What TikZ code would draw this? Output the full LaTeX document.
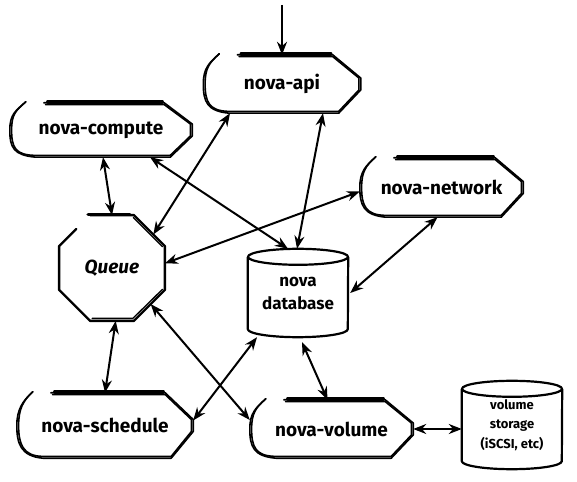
\documentclass[tikz,border=0pt]{standalone}
\usepackage{fontspec}
\setmainfont{Fira Sans}
\usetikzlibrary{arrows.meta,calc,shapes.geometric}

\tikzset{
  lbl/.style={inner sep=0pt, font=\bfseries\fontsize{19}{23}\selectfont, align=center},
  capbox/.style={lbl, draw=none},
  arr/.style={line width=2pt, {Stealth[length=13pt,width=10pt]}-{Stealth[length=13pt,width=10pt]}},
  one/.style={line width=2pt, -{Stealth[length=13pt,width=10pt]}},
  sk/.style={line width=1.6pt, line join=round, line cap=round},
  topbar/.style={line width=3.6pt, line cap=round},
  cylsk/.style={line width=2.2pt, line join=round},
}

\newcommand\skcap[1]{%
  \foreach \d in {0,1.8}{%
    \draw[sk] ($(#1.north west)+(34+\d,-\d)$) -- ($(#1.north east)+(-28,-\d)$)
      -- ($(#1.east)+(-\d,6)$) -- ($(#1.east)+(-\d,-6)$)
      -- ($(#1.south east)+(-22,\d)$) -- ($(#1.south west)+(26,\d)$)
      .. controls ($(#1.south west)+(4+\d,2)$) and ($(#1.west)+(\d,-18)$) .. ($(#1.west)+(\d,0)$)
      .. controls ($(#1.west)+(\d,16)$) and ($(#1.north west)+(6,-8)$) .. ($(#1.north west)+(16,1)$);
  }%
  \draw[topbar] ($(#1.north west)+(38,1)$) -- ($(#1.north east)+(-30,1)$);
}

\newcommand\skcyl[2]{%
  \draw[cylsk] ($(#1.north west)+(0,-8)$) -- ($(#1.south west)+(0,8)$)
    arc[start angle=180, end angle=360, x radius=#2, y radius=8]
    -- ($(#1.north east)+(0,-8)$);
  \draw[cylsk] ($(#1.north)+(0,-8)$) ellipse[x radius=#2, y radius=8];
}

\begin{document}
\begin{tikzpicture}[x=1pt,y=1pt]
  \fill[white] (0,0) rectangle (577,481);
  \useasboundingbox (0,0) rectangle (577,481);

  % nodes
  \node[capbox, minimum width=157pt, minimum height=58pt] (api) at (282,397) {nova-api};
  \node[capbox, minimum width=182pt, minimum height=54pt] (compute) at (101,351) {nova-compute};
  \node[capbox, minimum width=163pt, minimum height=59pt] (network) at (441.5,293.5) {nova-network};
  \node[capbox, minimum width=176pt, minimum height=65pt] (schedule) at (105,55.5) {nova-schedule};
  \node[capbox, minimum width=163pt, minimum height=58pt] (volume) at (331.5,52) {nova-volume};
  \node[lbl, font=\bfseries\itshape\fontsize{19}{23}\selectfont, regular polygon, regular polygon sides=8, minimum size=114pt] (queue) at (112,213) {Queue};
  \node[lbl, font=\bfseries\fontsize{17}{23}\selectfont, minimum width=100pt, minimum height=88pt] (db) at (298,188) {\raisebox{-6pt}{\parbox{90pt}{\centering nova\\database}}};
  \node[lbl, font=\bfseries\fontsize{13}{19.5}\selectfont, minimum width=100pt, minimum height=88pt] (storage) at (512,56) {\raisebox{-5pt}{\parbox{95pt}{\centering volume\\storage\\(iSCSI, etc)}}};
  \coordinate (top) at (282,476);

  % outlines
  \skcap{api}
  \skcap{compute}
  \skcap{network}
  \skcap{schedule}
  \skcap{volume}
  \skcyl{db}{50}
  \skcyl{storage}{50}
  \draw[sk, line width=2.4pt] ($(queue.corner 3)!0.55!(queue.corner 2)$) -- (queue.corner 3) -- (queue.corner 4)
    -- (queue.corner 5) -- (queue.corner 6) -- (queue.corner 7) -- (queue.corner 8) -- (queue.corner 1) -- (queue.corner 2);
  \draw[sk, line width=1.3pt] ($(queue.corner 5)+(2,2.5)$) -- ($(queue.corner 6)+(-1,2.5)$) -- ($(queue.corner 7)+(-2.5,0.5)$);
  \draw[sk, line width=1.3pt] ($(queue.corner 8)+(-2.5,-0.5)$) -- ($(queue.corner 1)+(-0.5,-2.5)$);
  \draw[topbar] ($(queue.corner 2)+(-2,0.8)$) -- ($(queue.corner 1)+(-4,0.8)$);

  % connectors
  \draw[one] (top) -- (api.north);
  \draw[arr] ([xshift=2pt]compute.south) -- (queue.north);
  \draw[arr] ([xshift=49pt]compute.south) -- ([xshift=-10pt]db.north);
  \draw[arr] ([xshift=-52pt]api.south) -- (queue.39);
  \draw[arr] ([xshift=41pt]api.south) -- ([xshift=-1pt]db.north);
  \draw[arr] ([yshift=-4pt]network.west) -- (queue.5);
  \draw[arr] ([xshift=-4pt]network.south) -- ([xshift=2pt]db.east);
  \draw[arr] (queue.-86) -- (schedule.north);
  \draw[arr] (queue.-43) -- ([yshift=9pt]volume.west);
  \draw[arr] ([xshift=-41pt]db.south) -- ([yshift=5pt]schedule.east);
  \draw[arr] ([xshift=4pt,yshift=-5pt]db.south) -- ([xshift=-4pt]volume.north);
  \draw[arr] (volume.east) -- (volume.east -| storage.west);
\end{tikzpicture}
\end{document}
